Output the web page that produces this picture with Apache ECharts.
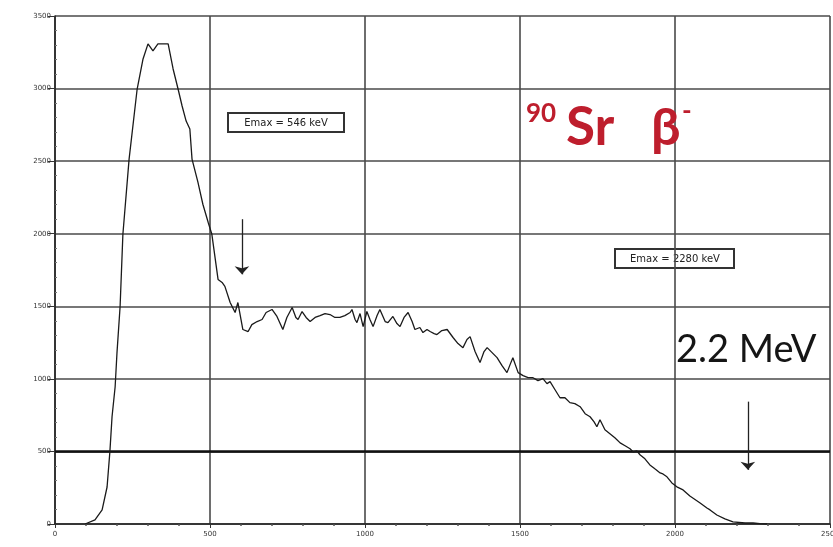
<!DOCTYPE html>
<html>
<head>
<meta charset="utf-8">
<script src="https://cdn.jsdelivr.net/npm/echarts@6/dist/echarts.min.js"></script>
<style>
  html, body { margin: 0; padding: 0; background: #ffffff; }
  #chart { width: 833px; height: 547px; }
</style>
</head>
<body>
<div id="chart"></div>
<script>
// Beta spectrum of 90Sr / 90Y: energy (keV) against counts
const energy = [97,129,152,168,177,184,194,200,210,219,239,265,284,300,316,332,348,365,381,397,410,423,435,442,461,477,494,506,526,539,548,565,581,590,606,623,635,652,668,681,700,716,735,748,765,777,784,797,810,823,839,855,871,887,903,919,935,952,958,968,974,984,994,1006,1016,1026,1039,1048,1065,1074,1090,1103,1113,1126,1139,1152,1161,1177,1187,1200,1210,1223,1232,1248,1265,1284,1300,1316,1329,1339,1355,1371,1384,1394,1410,1426,1442,1458,1468,1477,1494,1510,1526,1542,1558,1574,1587,1597,1613,1629,1645,1661,1677,1694,1710,1726,1739,1748,1758,1774,1790,1806,1823,1839,1855,1865,1877,1887,1903,1919,1935,1952,1961,1974,1990,2006,2026,2048,2081,2103,2113,2135,2161,2187,2226,2252,2274,2297];
const counts = [0,28,97,255,497,739,946,1181,1499,1996,2514,2997,3204,3308,3260,3308,3308,3308,3135,2997,2880,2776,2721,2514,2355,2203,2079,1996,1685,1664,1637,1526,1457,1526,1340,1326,1374,1395,1409,1457,1478,1430,1340,1423,1492,1423,1409,1464,1423,1395,1423,1436,1450,1443,1423,1423,1436,1457,1478,1409,1388,1450,1360,1464,1409,1360,1436,1478,1395,1388,1430,1381,1360,1423,1457,1395,1340,1354,1319,1340,1326,1312,1305,1333,1340,1285,1243,1215,1271,1291,1188,1112,1188,1215,1181,1146,1091,1043,1098,1146,1043,1022,1008,1008,988,1001,967,981,925,870,870,836,829,808,760,739,704,670,718,649,622,594,559,539,518,497,504,477,449,407,380,352,345,325,283,256,235,193,145,110,97,62,35,14,7,7,3,0];

// Axis ranges and tick spacing
const xTicks = [0, 500, 1000, 1500, 2000, 2500];
const yTicks = [0, 500, 1000, 1500, 2000, 2500, 3000, 3500];

// End-point markers (keV, counts): [from, to]
const arrowLow = [[603, 2100], [603, 1720]];
const arrowHigh = [[2235, 843], [2235, 373]];

const labelLow = 'Emax = 546 keV';
const labelHigh = 'Emax = 2280 keV';

const chart = echarts.init(document.getElementById('chart'));

const axisLabelStyle = {
  fontSize: 7, color: '#333', fontFamily: 'DejaVu Sans',
  formatter: v => String(v)
};

chart.setOption({
  animation: false,
  backgroundColor: '#ffffff',
  grid: { left: 55, right: 3, top: 16, bottom: 23, show: false, containLabel: false, outerBoundsMode: 'none' },
  xAxis: {
    type: 'value',
    min: xTicks[0],
    max: xTicks[xTicks.length - 1],
    interval: 500,
    axisLine: { show: true, onZero: false, lineStyle: { color: '#222', width: 1.5 } },
    axisTick: { show: true, length: 4, lineStyle: { color: '#333' } },
    minorTick: { show: true, splitNumber: 5, length: 2, lineStyle: { color: '#555', width: 1.5 } },
    axisLabel: Object.assign({ margin: 7 }, axisLabelStyle),
    splitLine: { show: true, lineStyle: { color: '#4a4a4a', width: 1.6 } }
  },
  yAxis: {
    type: 'value',
    min: yTicks[0],
    max: yTicks[yTicks.length - 1],
    interval: 500,
    axisLine: { show: true, lineStyle: { color: '#222', width: 1.5 } },
    axisTick: { show: true, length: 7, lineStyle: { color: '#333' } },
    minorTick: { show: true, splitNumber: 5, length: -2, lineStyle: { color: '#777', width: 1 } },
    axisLabel: Object.assign({ margin: 4 }, axisLabelStyle),
    splitLine: { show: true, lineStyle: { color: '#4a4a4a', width: 1.6 } }
  },
  series: [
    {
      type: 'line',
      data: energy.map((e, i) => [e, counts[i]]),
      showSymbol: false,
      symbol: 'none',
      lineStyle: { color: '#1a1a1a', width: 1.3 },
      z: 5,
      markLine: {
        silent: true,
        symbol: 'none',
        label: { show: false },
        lineStyle: { color: '#111', width: 2.6, type: 'solid' },
        data: [{ yAxis: 500 }]
      }
    },
    {
      type: 'line',
      data: [],
      markLine: {
        silent: true,
        symbol: ['none', 'arrow'],
        symbolSize: [11, 8],
        label: { show: false },
        lineStyle: { color: '#222', width: 1.3, type: 'solid' },
        data: [
          [{ coord: arrowLow[0] }, { coord: arrowLow[1] }],
          [{ coord: arrowHigh[0] }, { coord: arrowHigh[1] }]
        ]
      }
    }
  ],
  graphic: [
    // small framed labels for the end-point energies
    {
      type: 'group', left: 227, top: 112,
      children: [
        { type: 'rect', shape: { x: 0, y: 0, width: 116, height: 19 },
          style: { fill: '#fff', stroke: '#333', lineWidth: 2 } },
        { type: 'text', x: 58, y: 10,
          style: { text: labelLow, fontSize: 10, fontFamily: 'DejaVu Sans', fill: '#222',
                   align: 'center', verticalAlign: 'middle' } }
      ]
    },
    {
      type: 'group', left: 614, top: 248,
      children: [
        { type: 'rect', shape: { x: 0, y: 0, width: 119, height: 19 },
          style: { fill: '#fff', stroke: '#333', lineWidth: 2 } },
        { type: 'text', x: 60, y: 10,
          style: { text: labelHigh, fontSize: 10, fontFamily: 'DejaVu Sans', fill: '#222',
                   align: 'center', verticalAlign: 'middle' } }
      ]
    },
    // nuclide title
    { type: 'text', x: 526, y: 114, z: 20,
      style: { text: '90', fontSize: 26, fontWeight: 'bold', fontFamily: 'Lato', fill: '#be1e2d',
               verticalAlign: 'middle', align: 'left' } },
    { type: 'text', x: 566, y: 128, z: 20,
      style: { text: 'Sr', fontSize: 53, fontWeight: 'bold', fontFamily: 'Lato', fill: '#be1e2d',
               verticalAlign: 'middle', align: 'left' } },
    { type: 'text', x: 651, y: 128, z: 20,
      style: { text: 'β', fontSize: 52, fontWeight: 'bold', fontFamily: 'Lato', fill: '#be1e2d',
               verticalAlign: 'middle', align: 'left' } },
    { type: 'text', x: 682, y: 112, z: 20,
      style: { text: '-', fontSize: 26, fontWeight: 'bold', fontFamily: 'Lato', fill: '#be1e2d',
               verticalAlign: 'middle', align: 'left' } },
    // end-point energy note
    { type: 'text', x: 676, y: 350, z: 20,
      style: { text: '2.2 MeV', fontSize: 38, fontFamily: 'Lato', fill: '#151515',
               verticalAlign: 'middle', align: 'left' } }
  ]
});
</script>
</body>
</html>
